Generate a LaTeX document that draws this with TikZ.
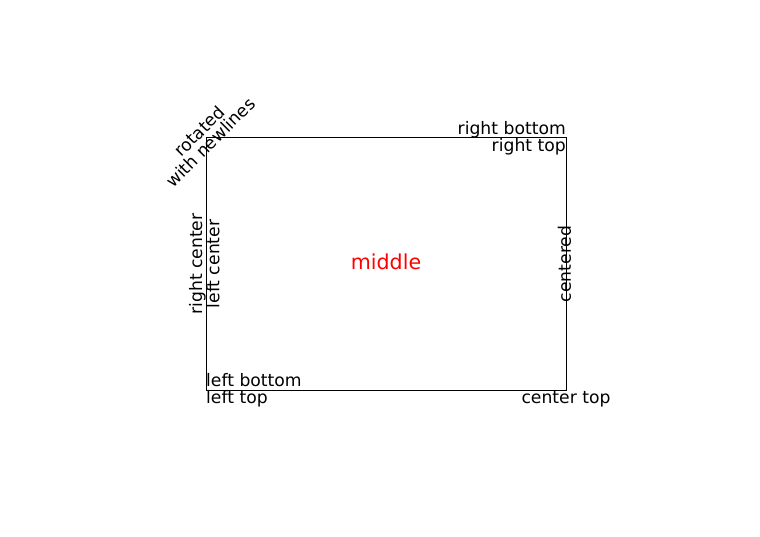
\documentclass[tikz,border=0pt]{standalone}
\usepackage{fontspec}
\setmainfont{DejaVu Sans}
\begin{document}
\begin{tikzpicture}[x=1pt,y=-1pt,
    lbl/.style={inner sep=0pt,font=\fontsize{17.2}{20.6}\selectfont,text height=13.1pt,text depth=3.6pt},
    vlbl/.style={lbl,rotate=90}]
    \useasboundingbox (0,0) rectangle (760,537);
    % Box corners
    \coordinate (lt) at (206,138);
    \coordinate (rt) at (566,138);
    \coordinate (lb) at (206,390);
    \coordinate (rb) at (566,390);
    \coordinate (lm) at (206,264);
    \coordinate (rm) at (566,264);
    \draw[line width=1pt] (lb) rectangle (rt);
    % Corner labels
    \node[lbl,anchor=north west] (lefttop) at (lb) {left top};
    \node[lbl,anchor=south west] (leftbottom) at (lb) {left bottom};
    \node[lbl,anchor=south east] (rightbottom) at (rt) {right bottom};
    \node[lbl,anchor=north east] (righttop) at (rt) {right top};
    \node[lbl,anchor=north] (centertop) at (rb) {center top};
    % Vertical labels on the sides
    \node[vlbl,anchor=south] (rightcenter) at (lm) {right center};
    \node[vlbl,anchor=north] (leftcenter) at (lm) {left center};
    \node[vlbl,anchor=center] (centered) at (rm) {centered};
    % Middle and rotated labels
    \node[lbl,font=\fontsize{20.6}{24.7}\selectfont,text height=15.7pt,text depth=4.3pt,text=red] (middle) at (386,264) {middle};
    \node[inner sep=0pt,font=\fontsize{17.2}{15.7}\selectfont,text depth=3.6pt,align=center,rotate=45] (rotated) at (lt) {rotated\\with newlines};
\end{tikzpicture}
\end{document}
